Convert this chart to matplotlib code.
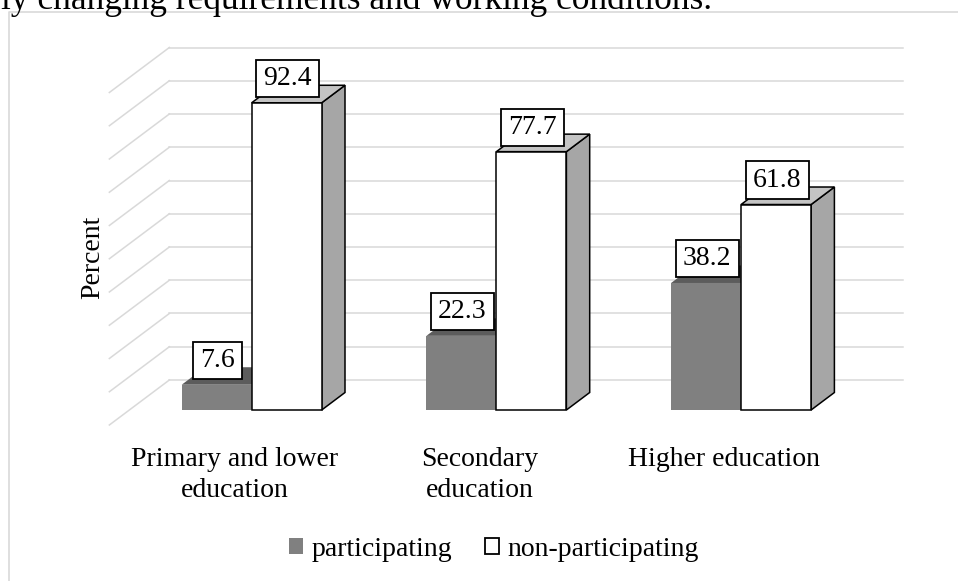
import matplotlib
matplotlib.use("Agg")
import matplotlib.pyplot as plt
from matplotlib.patches import Rectangle, Polygon, Patch
from matplotlib.path import Path
from matplotlib.lines import Line2D
import numpy as np

# ---- data -------------------------------------------------------------
categories = ["Primary and lower\neducation", "Secondary\neducation", "Higher education"]
participating = [7.6, 22.3, 38.2]
non_participating = [92.4, 77.7, 61.8]
series_names = ["participating", "non-participating"]
y_ticks = list(range(0, 101, 10))

# ---- styling ------------------------------------------------------------
plt.rcParams["font.family"] = ["Liberation Serif", "DejaVu Serif"]
FS = 20
GRID = "#d9d9d9"
GRAY_FRONT, GRAY_TOP, GRAY_SIDE = "#808080", "#5c5c5c", "#6e6e6e"
WHITE_TOP, WHITE_SIDE = "#c4c4c4", "#a6a6a6"

W, H = 958, 581
fig = plt.figure(figsize=(W / 100, H / 100), dpi=100)

# axes = front plane of the columns (pixel layout)
x_px0, x_px1 = 100, 920
zero_px, hundred_px = 410, 77.5
first_cat_px, cat_step_px = 251.7, 244.7
ax = fig.add_axes([x_px0 / W, (H - zero_px) / H,
                   (x_px1 - x_px0) / W, (zero_px - hundred_px) / H])
ax.set_xlim((x_px0 - first_cat_px) / cat_step_px, (x_px1 - first_cat_px) / cat_step_px)
ax.set_ylim(0, 100)
ax.axis("off")

# oblique depth offsets in display pixels (x right, y up)
BAR = (23.3, 17.5)     # depth of a column
WALL = (40.0, 30.0)    # back wall relative to column fronts
FLOOR = (-20.0, -15.0)  # front edge of the floor


def shifted(x, y, off):
    disp = ax.transData.transform((x, y)) + np.asarray(off)
    return tuple(ax.transData.inverted().transform(disp))


# gridlines on back wall and side wall
x_lo, x_hi = -0.5, len(categories) - 0.5
for v in y_ticks:
    a, b = shifted(x_lo, v, WALL), shifted(x_hi, v, WALL)
    ax.add_line(Line2D([a[0], b[0]], [a[1], b[1]], color=GRID, lw=1.1,
                       clip_on=False, zorder=0))
    c = shifted(x_lo, v, FLOOR)
    ax.add_line(Line2D([c[0], a[0]], [c[1], a[1]], color=GRID, lw=1.1,
                       clip_on=False, zorder=0))

w = 70 / cat_step_px


def label_box(x0, y0, width, height, mutation_size, *args):
    px, py = 0.26 * mutation_size, 0.22 * mutation_size
    verts = [(x0 - px, y0 - py), (x0 + width + px, y0 - py),
             (x0 + width + px, y0 + height + py), (x0 - px, y0 + height + py),
             (x0 - px, y0 - py)]
    return Path(verts, closed=True)


def value_label(xc, v):
    ax.annotate(f"{v:.1f}", xy=(xc, v), xytext=(1, 12), textcoords="offset pixels",
                ha="center", va="bottom", fontsize=FS, color="black", zorder=10,
                annotation_clip=False,
                bbox=dict(boxstyle=label_box, fc="white", ec="black", lw=1.3))


for i, (p, n) in enumerate(zip(participating, non_participating)):
    # participating column (left, solid gray, no outline)
    ax.add_patch(Polygon([(i, 0), (i, p), shifted(i, p, BAR), shifted(i, 0, BAR)],
                         closed=True, fc=GRAY_SIDE, ec="none", zorder=2, clip_on=False))
    ax.add_patch(Polygon([(i - w, p), (i, p), shifted(i, p, BAR), shifted(i - w, p, BAR)],
                         closed=True, fc=GRAY_TOP, ec="none", zorder=2, clip_on=False))
    ax.add_patch(Rectangle((i - w, 0), w, p, fc=GRAY_FRONT, ec="none", zorder=3,
                           clip_on=False))

    # non-participating column (right, white with black outline)
    ax.add_patch(Polygon([(i + w, 0), (i + w, n), shifted(i + w, n, BAR), shifted(i + w, 0, BAR)],
                         closed=True, fc=WHITE_SIDE, ec="black", lw=1.1, zorder=4,
                         joinstyle="miter", clip_on=False))
    ax.add_patch(Polygon([(i, n), (i + w, n), shifted(i + w, n, BAR), shifted(i, n, BAR)],
                         closed=True, fc=WHITE_TOP, ec="black", lw=1.1, zorder=4,
                         joinstyle="miter", clip_on=False))
    ax.add_patch(Rectangle((i, 0), w, n, fc="white", ec="black", lw=1.1, zorder=5,
                           joinstyle="miter", clip_on=False))

    value_label(i - w / 2, p)
    value_label(i + w / 2, n)

    ax.annotate(categories[i], xy=(i, 0), xytext=(-17, -37), textcoords="offset pixels",
                ha="center", va="top", multialignment="center", fontsize=FS,
                linespacing=1.3, annotation_clip=False)

fig.text(93 / W, 1 - 257 / H, "Percent", rotation=90, ha="center", va="center",
         fontsize=FS)

handles = [Patch(fc=GRAY_FRONT, ec="none"), Patch(fc="white", ec="black", lw=1.3)]
fig.legend(handles=handles, labels=series_names, loc="center",
           bbox_to_anchor=(494 / W, 1 - 549 / H), ncol=2, frameon=False, fontsize=FS,
           handlelength=0.5, handleheight=0.5, handletextpad=0.3, columnspacing=1.2,
           borderpad=0, borderaxespad=0)

# chart frame (left and top edges)
fig.add_artist(Line2D([9 / W, 9 / W, 1], [0, 1 - 12 / H, 1 - 12 / H],
                      transform=fig.transFigure, color=GRID, lw=1.2))

# running text of the page above the chart
fig.text(712 / W, 1 - 9 / H, "ly changing requirements and working conditions.",
         ha="right", va="baseline", fontsize=25.5)

fig.savefig("out.png", dpi=100)
